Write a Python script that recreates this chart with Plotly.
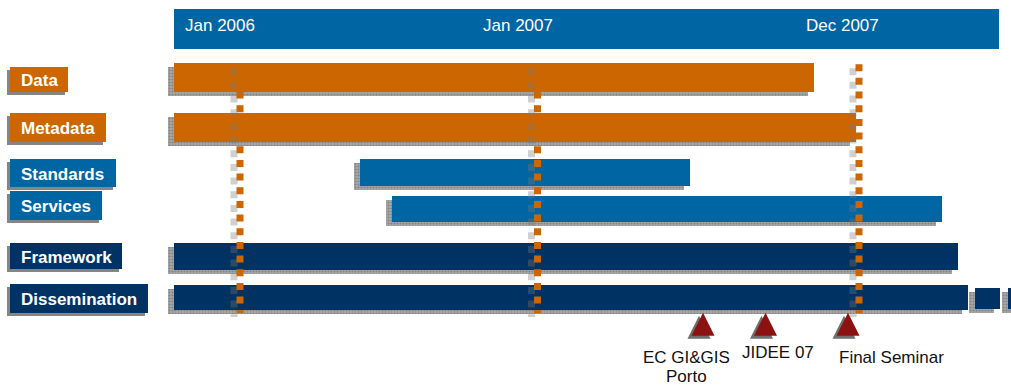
import plotly.graph_objects as go

# ---------------- data (timeline units = horizontal position on the chart) ----------------
tasks = ["Data", "Metadata", "Standards", "Services", "Framework", "Dissemination"]
task_colors = ["#cc6600", "#cc6600", "#0065a3", "#0065a3", "#003264", "#003264"]
task_start = [174, 174, 360, 392, 174, 174]
task_end = [814, 856, 690, 942, 958, 968]
task_row = [77.3, 127.2, 172.5, 209, 256.5, 297.5]
task_thick = [28.7, 29, 27, 26, 27, 25]

# continuation segments of Dissemination
extra_start = [975, 1008]
extra_end = [1000, 1030]
extra_row = [298.5, 298.5]
extra_thick = [21, 21]

# label boxes on the left
label_right = [68, 106, 115.7, 101.7, 121.7, 147.7]
label_row = [79.3, 127.3, 173, 205.7, 256.3, 298.5]
label_thick = [24.7, 28.7, 27.4, 28.7, 26, 28.4]

# timeline header
period_labels = ["Jan 2006", "Jan 2007", "Dec 2007"]
period_label_x = [183, 481, 804]
period_lines_x = [240, 537.5, 859]
header_start, header_end = 174, 999

# milestones
milestones = ["EC GI&GIS<br>Porto", "JIDEE 07", "Final Seminar"]
milestone_x = [703, 765.5, 848]
milestone_label_x = [686, 778, 891]
milestone_label_y = [357.5, 352, 357]

W, H = 1011, 385
FONT = "Liberation Sans, Arial, sans-serif"
SHADOW_DX, SHADOW_DY = -6, 4
LABEL_DX, LABEL_DY = -3, 3

fig = go.Figure()

# header band
fig.add_trace(go.Bar(orientation="h", y=[29], base=[header_start], x=[header_end - header_start],
                     width=[40], marker=dict(color="#0065a3", line_width=0), hoverinfo="skip"))

# bar shadows
sh_start = [s + SHADOW_DX for s in task_start + extra_start]
sh_len = [e - s for s, e in zip(task_start + extra_start, task_end + extra_end)]
sh_row = [r + SHADOW_DY for r in task_row + extra_row]
fig.add_trace(go.Bar(orientation="h", y=sh_row, base=sh_start, x=sh_len,
                     width=task_thick + extra_thick,
                     marker=dict(color="#8a8a8a", line_width=0,
                                 pattern=dict(shape=".", fgcolor="#5e5e5e", bgcolor="#a8a8a8",
                                              size=3, solidity=0.4)),
                     hoverinfo="skip"))

# bars
fig.add_trace(go.Bar(orientation="h", y=task_row, base=task_start,
                     x=[e - s for s, e in zip(task_start, task_end)], width=task_thick,
                     marker=dict(color=task_colors, line_width=0), hoverinfo="skip"))
fig.add_trace(go.Bar(orientation="h", y=extra_row, base=extra_start,
                     x=[e - s for s, e in zip(extra_start, extra_end)], width=extra_thick,
                     marker=dict(color="#003264", line_width=0), hoverinfo="skip"))

# label box shadows and boxes
label_left = 9.5
fig.add_trace(go.Bar(orientation="h", y=[r + LABEL_DY for r in label_row],
                     base=[label_left + LABEL_DX] * len(tasks),
                     x=[r - label_left for r in label_right], width=label_thick,
                     marker=dict(color="#858585", line_width=0), hoverinfo="skip"))
fig.add_trace(go.Bar(orientation="h", y=label_row, base=[label_left] * len(tasks),
                     x=[r - label_left for r in label_right], width=label_thick,
                     marker=dict(color=task_colors, line_width=0), hoverinfo="skip"))

# period lines (ghost then orange squares)
line_top, line_bottom = 64.2, 313
for x in period_lines_x:
    fig.add_trace(go.Scatter(x=[x + SHADOW_DX, x + SHADOW_DX], y=[line_top + SHADOW_DY, line_bottom + SHADOW_DY],
                             mode="lines", line=dict(color="rgba(120,120,120,0.35)", width=7, dash="7px,6.67px"),
                             hoverinfo="skip"))
for x in period_lines_x:
    fig.add_trace(go.Scatter(x=[x, x], y=[line_top, line_bottom], mode="lines",
                             line=dict(color="#cc6600", width=7, dash="7px,6.67px"), hoverinfo="skip"))

# milestone triangles
tri_top, tri_h, tri_half = 312.7, 23, 11.5
for x in milestone_x:
    fig.add_trace(go.Scatter(x=[x - 4, x - 4 - tri_half, x - 4 + tri_half, x - 4],
                             y=[tri_top + 3, tri_top + 3 + tri_h, tri_top + 3 + tri_h, tri_top + 3],
                             mode="lines", fill="toself", fillcolor="#6e6e6e", line=dict(width=0),
                             hoverinfo="skip"))
    fig.add_trace(go.Scatter(x=[x, x - tri_half, x + tri_half, x],
                             y=[tri_top, tri_top + tri_h, tri_top + tri_h, tri_top],
                             mode="lines", fill="toself", fillcolor="#8c1212", line=dict(width=0),
                             hoverinfo="skip"))

annotations = []
for lab, x in zip(period_labels, period_label_x):
    annotations.append(dict(x=x, y=25, text=lab, showarrow=False, xanchor="left", yanchor="middle",
                            font=dict(family=FONT, size=17, color="white")))
for lab, r in zip(tasks, label_row):
    annotations.append(dict(x=18.5, y=r + 1, text="<b>%s</b>" % lab, showarrow=False, xanchor="left",
                            yanchor="middle", font=dict(family=FONT, size=17, color="white")))
for lab, x, y in zip(milestones, milestone_label_x, milestone_label_y):
    for i, part in enumerate(lab.split("<br>")):
        annotations.append(dict(x=x, y=y + 19 * i, text=part, showarrow=False, xanchor="center",
                                yanchor="middle", font=dict(family=FONT, size=17, color="#111111")))

fig.update_layout(
    width=W, height=H, margin=dict(l=0, r=0, t=0, b=0),
    paper_bgcolor="white", plot_bgcolor="white",
    barmode="overlay", bargap=0, showlegend=False,
    xaxis=dict(range=[0, W], visible=False, fixedrange=True),
    yaxis=dict(range=[H, 0], visible=False, fixedrange=True),
    annotations=annotations,
)

fig.write_html("out.html", config={"displayModeBar": False},
               post_script="document.body.style.margin='0';document.body.style.overflow='hidden';")
